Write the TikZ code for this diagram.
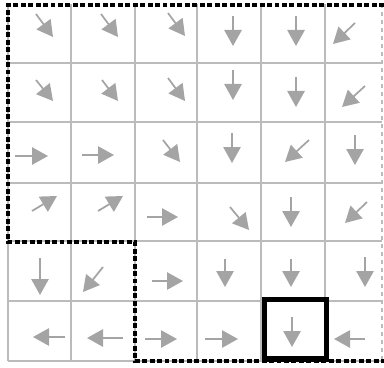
\documentclass[tikz,border=0pt]{standalone}
\usetikzlibrary{arrows.meta}
\definecolor{gridgray}{HTML}{BBBBBB}
\definecolor{arrgray}{HTML}{A4A4A4}
\tikzset{
  gridline/.style={draw=gridgray, line width=1.1pt},
  flow/.style={draw=arrgray, line width=1.3pt, -{Triangle[length=12pt,width=13pt]}},
  regionline/.style={draw=black, line width=3.6pt, dash pattern=on 3.7pt off 1.9pt},
  goalbox/.style={draw=black, line width=3.8pt}
}
\begin{document}
\begin{tikzpicture}[x=0.75pt,y=-0.75pt]
\useasboundingbox (0,0) rectangle (384,367);
% grid
\foreach \x in {8,71,135,197,261,325}{\draw[gridline] (\x,4) -- (\x,361);}
\foreach \y in {63,122,183,241,301,361}{\draw[gridline] (8,\y) -- (382,\y);}
\draw[gridline, dashed] (382,4) -- (382,361);
% arrows (start -> tip)
% row 1
\draw[flow] (36,14) -- (53,37);
\draw[flow] (101,14) -- (118,37);
\draw[flow] (168,13) -- (185,36);
\draw[flow] (233,16) -- (233,46);
\draw[flow] (296,16) -- (296,46);
\draw[flow] (355,23) -- (333,44);
% row 2
\draw[flow] (36,80) -- (53,101);
\draw[flow] (102,80) -- (118,101);
\draw[flow] (168,78) -- (185,101);
\draw[flow] (233,70) -- (233,100);
\draw[flow] (296,77) -- (296,107);
\draw[flow] (365,86) -- (342,107);
% row 3
\draw[flow] (15,156) -- (48,156);
\draw[flow] (82,155) -- (114,155);
\draw[flow] (163,140) -- (180,162);
\draw[flow] (232,133) -- (232,163);
\draw[flow] (309,140) -- (285,162);
\draw[flow] (355,135) -- (355,165);
% row 4
\draw[flow] (32,211) -- (57,196);
\draw[flow] (98,211) -- (123,196);
\draw[flow] (147,217) -- (178,217);
\draw[flow] (230,207) -- (249,230);
\draw[flow] (291,197) -- (291,227);
\draw[flow] (367,202) -- (345,223);
% row 5
\draw[flow] (40,258) -- (40,295);
\draw[flow] (103,267) -- (83,292);
\draw[flow] (152,281) -- (183,281);
\draw[flow] (225,259) -- (225,287);
\draw[flow] (291,259) -- (291,287);
\draw[flow] (365,257) -- (365,287);
% row 6
\draw[flow] (65,337) -- (33,337);
\draw[flow] (123,338) -- (87,338);
\draw[flow] (145,339) -- (177,339);
\draw[flow] (205,339) -- (238,339);
\draw[flow] (292,317) -- (292,347);
\draw[flow] (365,339) -- (334,339);
% dotted region boundary
\draw[regionline] (384,5) -- (8,5) -- (8,242) -- (135,242) -- (135,361) -- (384,361);
% goal cell
\draw[goalbox] (264.5,299.5) rectangle (326.5,359);
\end{tikzpicture}
\end{document}
